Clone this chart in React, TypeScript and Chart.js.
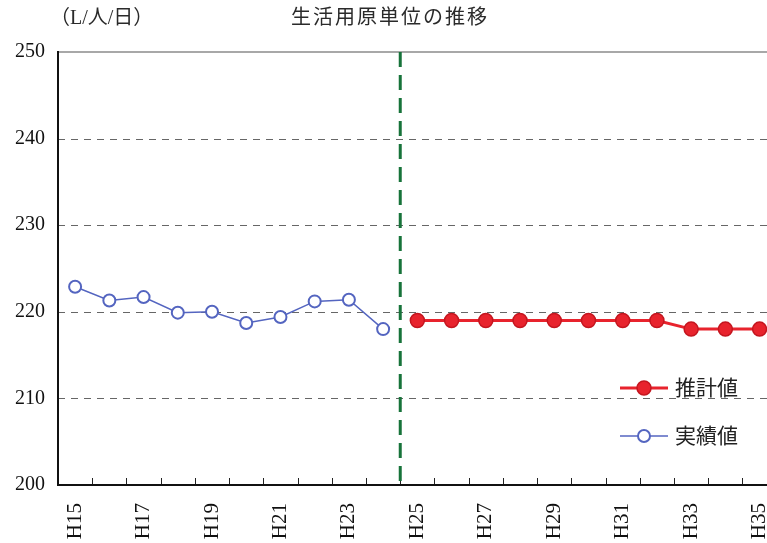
import React, { useEffect, useRef } from "react";
import { Chart, registerables } from "chart.js";

Chart.register(...registerables);

const categories = ["H15","H16","H17","H18","H19","H20","H21","H22","H23","H24","H25","H26","H27","H28","H29","H30","H31","H32","H33","H34","H35"];
const actualValues = [222.9, 221.3, 221.7, 219.9, 220.0, 218.7, 219.4, 221.2, 221.4, 218.0, null, null, null, null, null, null, null, null, null, null, null];
const forecastValues = [null, null, null, null, null, null, null, null, null, null, 219, 219, 219, 219, 219, 219, 219, 219, 218, 218, 218];
const yTickValues = [200, 210, 220, 230, 240, 250];
const dividerPosition = 9.5; // boundary between H24 and H25
const titleText = "生活用原単位の推移";
const unitText = "（L/人/日）";
const forecastLabel = "推計値";
const actualLabel = "実績値";

const RED = "#e8232d";
const RED_DARK = "#c4161f";
const BLUE = "#5465c0";
const GREEN = "#17733a";
const FONT = "'Liberation Serif', 'Noto Sans CJK JP', serif";

const decorPlugin = {
  id: "decor",
  beforeDatasetsDraw(chart: any) {
    const { ctx, chartArea, scales } = chart;
    const x = scales.x;
    const y = scales.y;
    const { left, right, top, bottom } = chartArea;
    ctx.save();
    ctx.strokeStyle = "#666";
    ctx.lineWidth = 1;
    ctx.setLineDash([7, 6]);
    yTickValues.forEach((v) => {
      if (v === 200 || v === 250) return;
      const py = Math.round(y.getPixelForValue(v)) + 0.5;
      ctx.beginPath();
      ctx.moveTo(left, py);
      ctx.lineTo(right, py);
      ctx.stroke();
    });
    ctx.setLineDash([]);
    ctx.strokeStyle = "#a8a8a8";
    ctx.lineWidth = 2;
    const ty = y.getPixelForValue(250);
    ctx.beginPath();
    ctx.moveTo(left, ty);
    ctx.lineTo(right, ty);
    ctx.stroke();
    ctx.strokeStyle = "#222";
    ctx.lineWidth = 1;
    for (let i = 0; i < categories.length - 1; i++) {
      const px = Math.round((x.getPixelForValue(i) + x.getPixelForValue(i + 1)) / 2) + 0.5;
      ctx.beginPath();
      ctx.moveTo(px, bottom);
      ctx.lineTo(px, bottom - 7);
      ctx.stroke();
    }
    ctx.strokeStyle = "#111";
    ctx.lineWidth = 2;
    ctx.beginPath();
    ctx.moveTo(left, top - 1);
    ctx.lineTo(left, bottom);
    ctx.lineTo(right, bottom);
    ctx.stroke();
    const lo = Math.floor(dividerPosition);
    const gx = x.getPixelForValue(lo) + (x.getPixelForValue(lo + 1) - x.getPixelForValue(lo)) * (dividerPosition - lo);
    ctx.strokeStyle = GREEN;
    ctx.lineWidth = 3;
    ctx.setLineDash([15, 8]);
    ctx.beginPath();
    ctx.moveTo(gx, top);
    ctx.lineTo(gx, bottom);
    ctx.stroke();
    ctx.restore();
  },
  afterDraw(chart: any) {
    const { ctx } = chart;
    ctx.save();
    ctx.fillStyle = "#2a2a2a";
    ctx.textBaseline = "middle";
    ctx.font = `20px ${FONT}`;
    try { (ctx as any).letterSpacing = "2px"; } catch (e) {}
    ctx.textAlign = "center";
    ctx.fillText(titleText, 390, 19);
    try { (ctx as any).letterSpacing = "0px"; } catch (e) {}
    ctx.textAlign = "left";
    ctx.fillText(unitText, 50, 19);
    const lx0 = 620, lx1 = 668, mx = 644, tx = 675;
    let ly = 388;
    ctx.strokeStyle = RED;
    ctx.lineWidth = 3;
    ctx.beginPath();
    ctx.moveTo(lx0, ly);
    ctx.lineTo(lx1, ly);
    ctx.stroke();
    ctx.fillStyle = RED;
    ctx.strokeStyle = RED_DARK;
    ctx.lineWidth = 1.5;
    ctx.beginPath();
    ctx.arc(mx, ly, 7, 0, Math.PI * 2);
    ctx.fill();
    ctx.stroke();
    ctx.fillStyle = "#222";
    ctx.font = `21px ${FONT}`;
    ctx.fillText(forecastLabel, tx, ly + 1);
    ly = 436;
    ctx.strokeStyle = BLUE;
    ctx.lineWidth = 1.5;
    ctx.beginPath();
    ctx.moveTo(lx0, ly);
    ctx.lineTo(lx1, ly);
    ctx.stroke();
    ctx.fillStyle = "#fff";
    ctx.lineWidth = 2;
    ctx.beginPath();
    ctx.arc(mx, ly, 6, 0, Math.PI * 2);
    ctx.fill();
    ctx.stroke();
    ctx.fillStyle = "#222";
    ctx.fillText(actualLabel, tx, ly + 1);
    ctx.restore();
  },
};

export default function App() {
  const ref = useRef<HTMLCanvasElement | null>(null);
  useEffect(() => {
    document.body.style.margin = "0";
    const canvas = ref.current;
    if (!canvas) return;
    const chart = new Chart(canvas, {
      type: "line",
      data: {
        labels: categories,
        datasets: [
          {
            label: forecastLabel,
            data: forecastValues,
            borderColor: RED,
            backgroundColor: RED,
            borderWidth: 3,
            pointRadius: 7,
            pointBackgroundColor: RED,
            pointBorderColor: RED_DARK,
            pointBorderWidth: 1.5,
            tension: 0,
            spanGaps: false,
          },
          {
            label: actualLabel,
            data: actualValues,
            borderColor: BLUE,
            backgroundColor: "#fff",
            borderWidth: 1.5,
            pointRadius: 6,
            pointBackgroundColor: "#fff",
            pointBorderColor: BLUE,
            pointBorderWidth: 2,
            tension: 0,
            spanGaps: false,
          },
        ],
      },
      options: {
        responsive: false,
        animation: false,
        devicePixelRatio: 1,
        layout: { padding: { top: 52, right: 5, left: 0, bottom: 0 } },
        plugins: {
          legend: { display: false },
          title: { display: false },
          tooltip: { enabled: false },
        },
        scales: {
          x: {
            type: "category",
            offset: true,
            grid: { display: false, drawTicks: false },
            border: { display: false },
            afterFit: (s: any) => { s.height = 58; },
            ticks: {
              autoSkip: false,
              minRotation: 90,
              maxRotation: 90,
              padding: 18,
              color: "#111",
              font: { family: FONT, size: 21 },
              callback: (_v: any, i: number) => (i % 2 === 0 ? categories[i] : ""),
            },
          },
          y: {
            min: 200,
            max: 250,
            grid: { display: false, drawTicks: false },
            border: { display: false },
            afterFit: (s: any) => { s.width = 58; },
            afterBuildTicks: (s: any) => { s.ticks = yTickValues.map((v) => ({ value: v })); },
            ticks: {
              padding: 13,
              color: "#111",
              font: { family: FONT, size: 20 },
            },
          },
        },
      },
      plugins: [decorPlugin],
    } as any);
    return () => chart.destroy();
  }, []);
  return (
    <div style={{ position: "fixed", left: 0, top: 0, width: 767, height: 543, overflow: "hidden", background: "#fff" }}>
      <canvas ref={ref} width={803} height={543} style={{ width: 803, height: 543, display: "block" }} />
    </div>
  );
}
